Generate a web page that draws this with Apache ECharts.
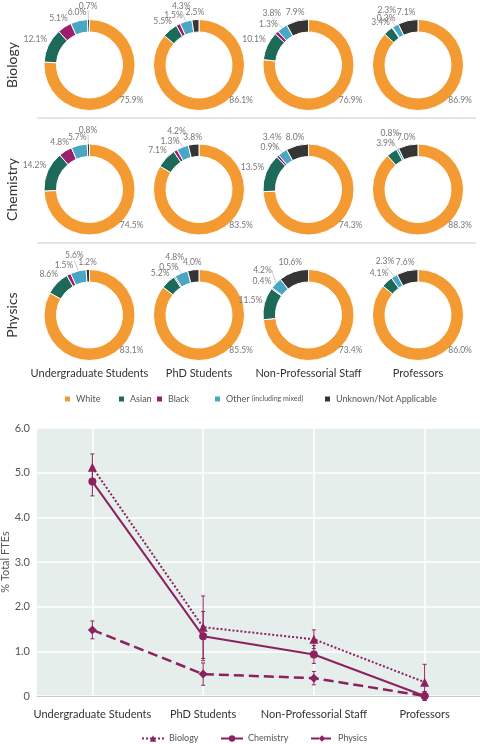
<!DOCTYPE html>
<html><head><meta charset="utf-8">
<script src="https://cdn.jsdelivr.net/npm/echarts@6/dist/echarts.min.js"></script>
<style>html,body{margin:0;padding:0;background:#fff}#c{width:480px;height:744px}</style>
</head><body><div id="c"></div>
<script>
// ---------- data ----------
const categories = ['Undergraduate Students', 'PhD Students', 'Non-Professorial Staff', 'Professors'];
const subjects = ['Biology', 'Chemistry', 'Physics'];
const ethnicity = ['White', 'Asian', 'Black', 'Other (including mixed)', 'Unknown/Not Applicable'];

// shares (%) per category: [White, Asian, Black, Other, Unknown]
const biologyShares = [
  [75.9, 12.1, 5.1, 6.0, 0.7],
  [86.1, 5.5, 1.5, 4.3, 2.5],
  [76.9, 10.1, 1.3, 3.8, 7.9],
  [86.9, 3.4, 0.3, 2.3, 7.1]
];
const chemistryShares = [
  [74.5, 14.2, 4.8, 5.7, 0.8],
  [83.5, 7.1, 1.3, 4.2, 3.8],
  [74.3, 13.5, 0.9, 3.4, 8.0],
  [88.3, 3.9, 0, 0.8, 7.0]
];
const physicsShares = [
  [83.1, 8.6, 1.5, 5.6, 1.2],
  [85.5, 5.2, 0.5, 4.8, 4.0],
  [73.4, 11.5, 0.4, 4.2, 10.6],
  [86.0, 4.1, 0, 2.3, 7.6]
];

// % total FTEs (Black) and error half-widths
const biologyFTE = [5.12, 1.54, 1.27, 0.31];
const chemistryFTE = [4.80, 1.34, 0.93, 0.0];
const physicsFTE = [1.48, 0.49, 0.40, 0.0];
const biologyErr = [0.30, 0.70, 0.21, 0.40];
const chemistryErr = [0.32, 0.55, 0.20, 0.10];
const physicsErr = [0.20, 0.25, 0.15, 0.10];
const yTicks = [0, 1, 2, 3, 4, 5, 6];

// ---------- layout & style ----------
const FONT = 'Lato, "Open Sans", sans-serif';
const ethColors = ['#F39A33', '#1D6A5A', '#9C1F6D', '#4AA6C5', '#353535'];
const LINE_C = '#8C2160';
const colX = [89.5, 199, 308.5, 418];
const rowY = [65, 189.5, 315];
const ethLegendLeft = [63, 117, 155, 213, 323];
const subjLegendLeft = [141, 220, 310];
const sharesByRow = [biologyShares, chemistryShares, physicsShares];
const WHITE_LABEL_ANGLE = 130 * Math.PI / 180;

const series = [];
const pieCenters = [];
const pieMeta = [];
sharesByRow.forEach((rows, r) => {
  rows.forEach((vals, c) => {
    const center = [colX[c], rowY[r]];
    const items = ethnicity.map((n, i) => ({ name: n, value: vals[i], idx: i })).filter(d => d.value > 0);
    const flags = items.map(d => (d.idx === 3 && vals[2] < 2) || (d.idx === 4 && d.value < 1));
    const sIdx = series.length;
    pieCenters[sIdx] = center;
    pieMeta[sIdx] = items.map((d, k) => ({ raised: flags[k], idx: d.idx }));
    series.push({
      type: 'pie',
      name: subjects[r] + ' - ' + categories[c],
      center: center,
      radius: [33, 45.5],
      startAngle: 90,
      clockwise: true,
      silent: true,
      animation: false,
      avoidLabelOverlap: false,
      itemStyle: { borderColor: '#fff', borderWidth: 1 },
      label: {
        show: true, position: 'outside', distanceToLabelLine: 0,
        formatter: p => p.value.toFixed(1) + '%',
        fontSize: 8.5, color: '#777', fontFamily: FONT
      },
      labelLine: { show: false, length: 0, length2: 0, lineStyle: { color: '#aaa', width: 0.6 } },
      labelLayout: function (p) {
        const cen = pieCenters[p.seriesIndex];
        const meta = pieMeta[p.seriesIndex][p.dataIndex];
        const rc = p.labelRect;
        if (meta.idx === 0) {
          return {
            x: cen[0] + Math.sin(WHITE_LABEL_ANGLE) * 55,
            y: cen[1] - Math.cos(WHITE_LABEL_ANGLE) * 55,
            align: 'center', verticalAlign: 'middle'
          };
        }
        const ax = p.align === 'right' ? rc.x + rc.width : (p.align === 'left' ? rc.x : rc.x + rc.width / 2);
        const ay = rc.y + rc.height / 2;
        let ux = ax - cen[0], uy = ay - cen[1];
        const len = Math.hypot(ux, uy) || 1;
        ux /= len; uy /= len;
        const gap = meta.raised ? 9 : 2;
        const d = gap + Math.abs(ux) * rc.width / 2 + Math.abs(uy) * rc.height / 2;
        return { x: ax + ux * d, y: ay + uy * d, align: 'center', verticalAlign: 'middle' };
      },
      data: items.map((d, k) => ({
        name: d.name, value: d.value, itemStyle: { color: ethColors[d.idx] },
        labelLine: { show: flags[k] }
      }))
    });
  });
});

function errRender(color) {
  return function (params, api) {
    const x = api.value(0), v = api.value(1), e = api.value(2);
    const hi = api.coord([x, v + e]), lo = api.coord([x, v - e]);
    const w = 2;
    const st = { stroke: color, lineWidth: 1 };
    return {
      type: 'group', children: [
        { type: 'line', shape: { x1: hi[0], y1: hi[1], x2: lo[0], y2: lo[1] }, style: st },
        { type: 'line', shape: { x1: hi[0] - w, y1: hi[1], x2: hi[0] + w, y2: hi[1] }, style: st },
        { type: 'line', shape: { x1: lo[0] - w, y1: lo[1], x2: lo[0] + w, y2: lo[1] }, style: st }
      ]
    };
  };
}

const lineDefs = [
  { name: 'Biology', data: biologyFTE, err: biologyErr, symbol: 'triangle', size: 9, type: 'dotted', width: 2 },
  { name: 'Chemistry', data: chemistryFTE, err: chemistryErr, symbol: 'circle', size: 8, type: 'solid', width: 2 },
  { name: 'Physics', data: physicsFTE, err: physicsErr, symbol: 'diamond', size: 9, type: 'dashed', width: 2.5 }
];
lineDefs.forEach(d => {
  series.push({
    type: 'custom', name: d.name + ' error', xAxisIndex: 0, yAxisIndex: 0,
    silent: true, animation: false, z: 2,
    renderItem: errRender(LINE_C),
    encode: { x: 0, y: 1 },
    data: categories.map((c, i) => [i, d.data[i], d.err[i]])
  });
  series.push({
    type: 'line', name: d.name, xAxisIndex: 0, yAxisIndex: 0,
    data: d.data, symbol: d.symbol, symbolSize: d.size, showSymbol: true,
    silent: true, animation: false, z: 3,
    lineStyle: { color: LINE_C, width: d.width, type: d.type },
    itemStyle: { color: LINE_C }
  });
});

const graphic = [];
subjects.forEach((s, r) => {
  graphic.push({
    type: 'text', x: 12, y: rowY[r], rotation: Math.PI / 2,
    style: { text: s, fontSize: 14, fill: '#333', fontFamily: FONT, align: 'center', verticalAlign: 'middle' }
  });
});
categories.forEach((c, i) => {
  graphic.push({
    type: 'text', x: colX[i], y: 373,
    style: { text: c, fontSize: 11, fill: '#333', fontFamily: FONT, align: 'center', verticalAlign: 'middle' }
  });
});
[118, 243].forEach(y => {
  graphic.push({ type: 'line', shape: { x1: 37, y1: y, x2: 476, y2: y }, style: { stroke: '#ccc', lineWidth: 1 } });
});

const legends = [];
ethnicity.forEach((n, i) => {
  legends.push({
    data: [n], top: 394.5, left: ethLegendLeft[i], padding: 0, icon: 'rect',
    itemWidth: 7, itemHeight: 7, itemGap: 0, selectedMode: false,
    textStyle: { fontSize: 9, color: '#555', fontFamily: FONT,
      rich: { s: { fontSize: 7, color: '#555', fontFamily: FONT } } },
    formatter: nm => nm === ethnicity[3] ? 'Other {s|(including mixed)}' : nm
  });
});
subjects.forEach((s, i) => {
  legends.push({
    data: [s], top: 734, left: subjLegendLeft[i], padding: 0,
    itemWidth: 22, itemHeight: 8, itemGap: 0, selectedMode: false,
    textStyle: { fontSize: 9, color: '#555', fontFamily: FONT }
  });
});

const option = {
  animation: false,
  textStyle: { fontFamily: FONT },
  grid: {
    left: 37, top: 428, width: 443, height: 268,
    outerBoundsMode: 'none', containLabel: false,
    show: true, backgroundColor: '#E5EEEA', borderWidth: 0
  },
  xAxis: {
    type: 'category', data: categories, boundaryGap: true,
    axisLine: { show: true, lineStyle: { color: '#c8c8c8' } },
    axisTick: { show: false },
    axisLabel: { fontSize: 11, color: '#333', margin: 13, fontFamily: FONT, interval: 0 },
    splitLine: { show: true, alignWithLabel: true, lineStyle: { color: '#fff', width: 1.5 } }
  },
  yAxis: {
    type: 'value', min: yTicks[0], max: yTicks[yTicks.length - 1], interval: 1,
    name: '% Total FTEs', nameLocation: 'middle', nameGap: 26, nameRotate: 90,
    nameMoveOverlap: false,
    nameTextStyle: { fontSize: 11, color: '#555', fontFamily: FONT },
    axisLine: { show: false }, axisTick: { show: false },
    axisLabel: { fontSize: 11, color: '#555', margin: 7, fontFamily: FONT,
      formatter: v => v === 0 ? '0' : v.toFixed(1) },
    splitLine: { show: true, lineStyle: { color: '#fff', width: 1.5 } }
  },
  legend: legends,
  graphic: graphic,
  series: series
};

const chart = echarts.init(document.getElementById('c'), null, { renderer: 'canvas' });
chart.setOption(option);
</script></body></html>
